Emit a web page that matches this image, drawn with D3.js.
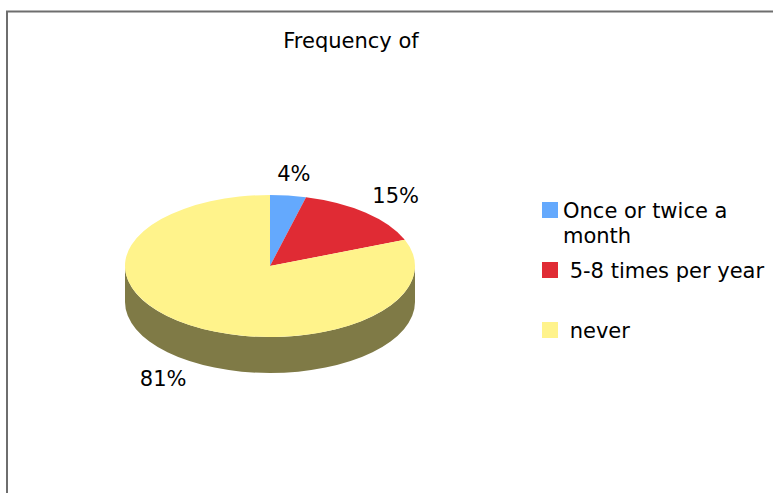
<!DOCTYPE html>
<html>
<head>
<meta charset="utf-8">
<script src="https://cdn.jsdelivr.net/npm/d3@7"></script>
<style>
  html, body { margin: 0; padding: 0; background: #fff; }
  svg { display: block; }
  text { font-family: "DejaVu Sans", Verdana, sans-serif; fill: #000; }
</style>
</head>
<body>
<script>
// Survey answers and their shares (percent)
const categories = ["Once or twice a month", "5-8 times per year", "never"];
const values = [4, 15, 81];
const legendLines = [["Once or twice a", "month"], [" 5-8 times per year"], [" never"]];
const topColors = ["#64a9fd", "#e02b34", "#fff38b"];
const sideColors = ["#3d6fa8", "#8a1d22", "#7f7a46"];
const title = "Frequency of";

const W = 773, H = 493;
const FS = 21;
const svg = d3.select("body").append("svg").attr("width", W).attr("height", H);

// chart frame (top and left edges visible)
svg.append("path")
  .attr("d", `M7,${H} L7,11.5 L${W},11.5`)
  .attr("fill", "none").attr("stroke", "#6e6e6e").attr("stroke-width", 2);

svg.append("text")
  .attr("x", 351).attr("y", 48)
  .attr("text-anchor", "middle")
  .attr("font-size", FS)
  .text(title);

// 3D pie geometry
const cx = 270, cy = 266, rx = 145, ry = 71, depth = 36;
const pt = (a, dy = 0) => [cx + rx * Math.sin(a), cy - ry * Math.cos(a) + dy];

const arcs = d3.pie().sort(null).value(d => d)(values);

const g = svg.append("g");

// side walls: only the front half (angles between PI/2 and 3PI/2) is visible
arcs.forEach((a, i) => {
  const s = Math.max(a.startAngle, Math.PI / 2);
  const e = Math.min(a.endAngle, 3 * Math.PI / 2);
  if (e <= s) return;
  const p1 = pt(s), p2 = pt(e), q2 = pt(e, depth), q1 = pt(s, depth);
  const large = (e - s) > Math.PI ? 1 : 0;
  g.append("path")
    .attr("d", `M${p1} A${rx},${ry} 0 ${large} 1 ${p2} L${q2} A${rx},${ry} 0 ${large} 0 ${q1} Z`)
    .attr("fill", sideColors[i]);
});

// top faces
arcs.forEach((a, i) => {
  const p1 = pt(a.startAngle), p2 = pt(a.endAngle);
  const large = (a.endAngle - a.startAngle) > Math.PI ? 1 : 0;
  g.append("path")
    .attr("d", `M${cx},${cy} L${p1} A${rx},${ry} 0 ${large} 1 ${p2} Z`)
    .attr("fill", topColors[i]);
});

// percentage labels outside the slices
const lrx = 190, lry = 93;
arcs.forEach((a, i) => {
  const m = (a.startAngle + a.endAngle) / 2;
  const x = cx + lrx * Math.sin(m);
  let y = cy - lry * Math.cos(m);
  if (Math.cos(m) < 0) y += depth;
  svg.append("text")
    .attr("x", x).attr("y", y)
    .attr("text-anchor", "middle")
    .attr("dominant-baseline", "central")
    .attr("font-size", FS)
    .text(d3.format(".0f")(values[i]) + "%");
});

// legend
const legendRows = [202, 262, 322];
const legend = svg.append("g");
categories.forEach((c, i) => {
  const y0 = legendRows[i];
  legend.append("rect")
    .attr("x", 542).attr("y", y0).attr("width", 16).attr("height", 16)
    .attr("fill", topColors[i]);
  legendLines[i].forEach((line, k) => {
    legend.append("text")
      .attr("x", 563).attr("y", y0 + 16 + k * 25)
      .attr("font-size", FS)
      .attr("xml:space", "preserve")
      .style("white-space", "pre")
      .text(line);
  });
});
</script>
</body>
</html>
